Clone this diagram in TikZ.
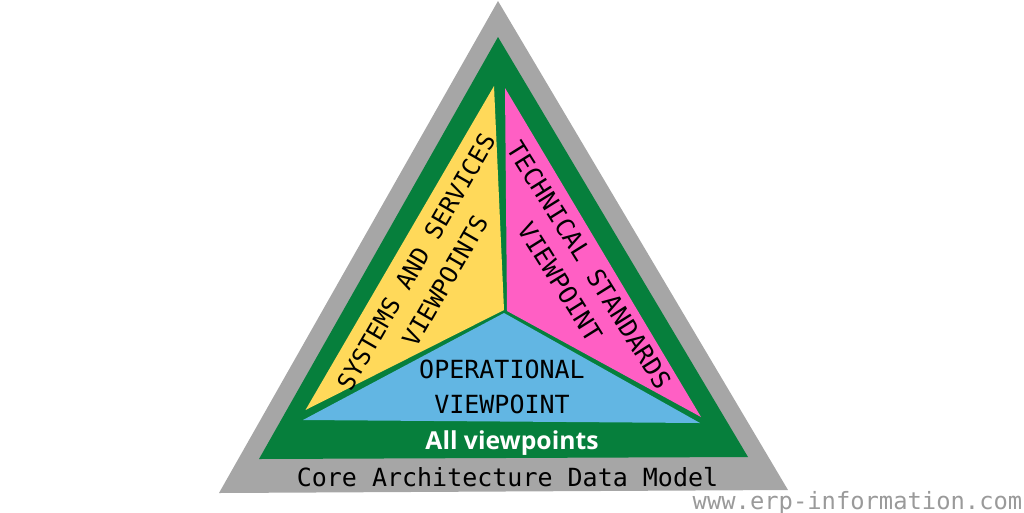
\documentclass[tikz,border=0pt]{standalone}
\usepackage{fontspec}
\setmonofont{DejaVu Sans Mono}
\setsansfont{Open Sans}
\usepackage{xcolor}
\definecolor{coregray}{HTML}{A6A6A6}
\definecolor{allgreen}{HTML}{067F3C}
\definecolor{sysyellow}{HTML}{FFD95A}
\definecolor{techpink}{HTML}{FF5FC4}
\definecolor{opblue}{HTML}{62B6E3}
\definecolor{markgray}{HTML}{9A9A9A}
\tikzstyle{viewtext} = [font=\ttfamily\fontsize{25}{28}\selectfont, text=black, inner sep=0pt, align=center]
\tikzstyle{sysText} = [viewtext, font=\ttfamily\fontsize{24.2}{28}\selectfont, rotate=60]

\begin{document}
\begin{tikzpicture}[x=1pt, y=-1pt]
	\useasboundingbox (0,0) rectangle (1024,512);
	
	% Triangles
	\fill [coregray] (498,1) -- (788,490) -- (219,493) -- cycle;
	\fill [allgreen] (498,37) -- (748,457) -- (259,459) -- cycle;
	\fill [sysyellow] (494,86) -- (504,310) -- (305.5,410) -- cycle;
	\fill [techpink] (505,88) -- (701,417) -- (507,311) -- cycle;
	\fill [opblue] (504,313) -- (700,423) -- (303,420) -- cycle;
	
	% Nodes
	\node (systems) [sysText] at (416,262) {SYSTEMS AND SERVICES};
	\node (systems_b) [sysText] at (445,281) {VIEWPOINTS};
	\node (technical) [viewtext, rotate=-58] at (589,265) {TECHNICAL STANDARDS};
	\node (technical_b) [viewtext, rotate=-58] at (560,282) {VIEWPOINT};
	\node (operational) [viewtext] at (502,369) {OPERATIONAL};
	\node (operational_b) [viewtext] at (502,404) {VIEWPOINT};
	\node (all) [font=\sffamily\bfseries\fontsize{24.7}{28}\selectfont, text=white, inner sep=0pt] at (512,443) {All viewpoints};
	\node (core) [viewtext] at (507.5,477) {Core Architecture Data Model};
	\node (mark) [font=\ttfamily\fontsize{23.8}{26}\selectfont, text=markgray, inner sep=0pt] at (857.5,503) {www.erp-information.com};
\end{tikzpicture}
\end{document}
